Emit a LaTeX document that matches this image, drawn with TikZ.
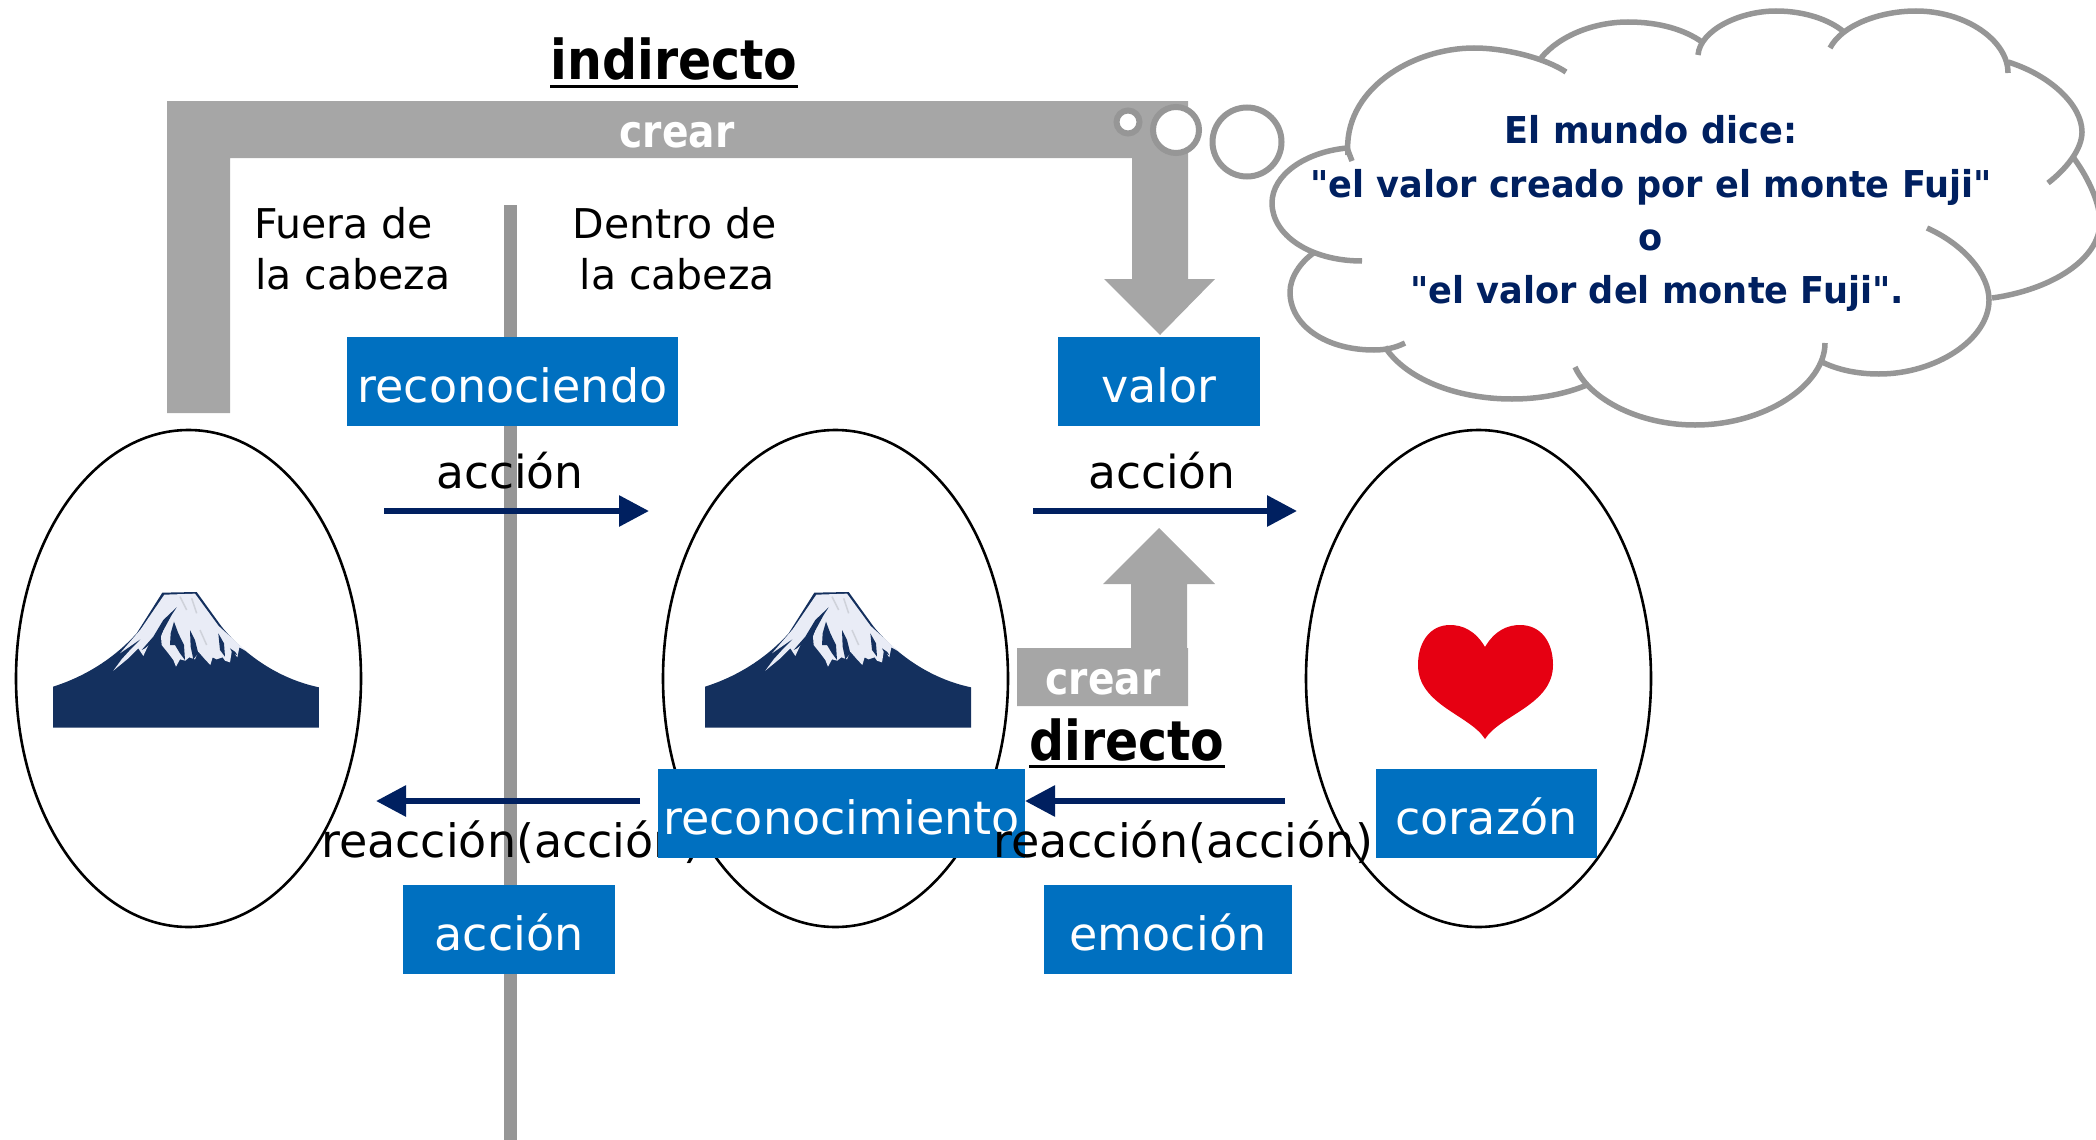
\documentclass[tikz,border=0pt]{standalone}
\usepackage{fontspec}
\setmainfont{DejaVu Sans}
\newfontfamily\titlefont[FakeStretch=0.89]{DejaVu Sans Bold}
\newfontfamily\blockfont[FakeStretch=0.87]{DejaVu Sans Bold}
\newfontfamily\cloudfont[FakeStretch=0.95]{DejaVu Sans Bold}
\usetikzlibrary{arrows.meta,calc,shapes.geometric}
\definecolor{boxblue}{HTML}{0070C0}
\definecolor{navy}{HTML}{002060}
\definecolor{blockgray}{HTML}{A6A6A6}
\definecolor{linegray}{HTML}{969696}
\definecolor{fujidark}{HTML}{14305E}
\definecolor{fujisnow}{HTML}{E9ECF6}
\definecolor{fujistreak}{HTML}{CFD2DA}
\definecolor{heartred}{HTML}{E60012}
\newcommand{\fsz}[1]{\fontsize{#1}{#1}\selectfont}
\tikzset{
  x=1pt,y=-1pt,
  oval/.style={draw=black,line width=2.6pt,ellipse,minimum width=345pt,minimum height=497pt,inner sep=0pt},
  bluebox/.style={fill=boxblue,text=white,inner sep=0pt,font=\fsz{46},text height=42pt,text depth=0pt,align=center},
  lbl/.style={anchor=base,inner sep=0pt,font=\fsz{46},text=black},
  sidelbl/.style={inner sep=0pt,font=\fsz{41},text=black},
  blocklbl/.style={anchor=base,inner sep=0pt,font=\blockfont\fsz{45},text=white},
  titlelbl/.style={anchor=base,inner sep=0pt,font=\titlefont\fsz{55},text=black},
  titlerule/.style={draw=black,line width=3pt},
  cloudlbl/.style={anchor=base,inner sep=0pt,font=\cloudfont\fsz{37},text=navy},
  flow/.style={draw=navy,line width=6pt,-{Triangle[length=30pt,width=30pt]}},
  divider/.style={draw=linegray,line width=13pt},
  block/.style={fill=blockgray},
  puff/.style={draw=linegray,line width=6pt,fill=white,circle,inner sep=0pt},
  cloudarc/.style={draw=linegray,line width=5.5pt,line cap=butt},
  fuji/.pic={
    \begin{scope}[x=0.33333pt,y=-0.33333pt]
    \fill[fujidark] (69,350) .. controls (170,318) and (255,262) .. (320,190) -- (397,68) -- (500,66) -- (575,170) .. controls (640,250) and (740,325) .. (867,352) -- (867,473) -- (69,473) -- cycle;
    \fill[fujisnow] (403,74) -- (495,71) -- (566,168) -- (648,243) -- (628,232) -- (622,262) -- (606,240) -- (600,277) -- (585,272) -- (578,262) -- (560,268) -- (548,262) -- (541,285) -- (525,268) -- (505,245) -- (495,268) -- (478,262) -- (466,272) -- (450,268) -- (438,290) -- (430,270) -- (415,250) -- (395,225) -- (393,200) -- (405,165) -- (360,215) -- (340,258) -- (325,235) -- (295,265) -- (250,302) -- (275,268) -- (305,235) -- (335,205) -- (270,250) -- (332,178) -- cycle;
    \fill[fujidark] (440,112) -- (400,150) -- (370,200) -- (335,240) -- (345,235) -- (395,190) -- (425,135) -- cycle;
    \fill[fujidark] (432,155) -- (445,190) -- (462,225) -- (465,270) -- (450,250) -- (435,225) -- (420,225) -- (422,190) -- cycle;
    \fill[fujidark] (480,180) -- (495,210) -- (505,250) -- (490,268) -- (482,230) -- cycle;
    \fill[fujidark] (565,190) -- (582,220) -- (585,260) -- (570,240) -- cycle;
    \fill[fujidark] (600,235) -- (615,245) -- (622,255) -- (608,250) -- cycle;
    \draw[fujistreak,line width=1.5pt] (450,80) -- (470,120);
    \draw[fujistreak,line width=1.5pt] (485,85) -- (500,130);
    \draw[fujistreak,line width=1.5pt] (510,180) -- (530,225);
    \end{scope}
  }
}
\begin{document}
\begin{tikzpicture}
\useasboundingbox (0,0) rectangle (2096,1140);
% divider
\coordinate (divtop) at (510.5,205);
\coordinate (divbot) at (510.5,1140);
\draw[divider] (divtop) -- (divbot);
% ovals
\node[oval] (ovalA) at (188.5,678.5) {};
\node[oval] (ovalB) at (835.5,678.5) {};
\node[oval] (ovalC) at (1478.5,678.5) {};
% fuji
\pic at (30,570) {fuji};
\pic at (682,570) {fuji};
% heart
\fill[heartred] (1485,647) .. controls (1475,630) and (1462,625) .. (1450,625) .. controls (1430,625) and (1418,642) .. (1418,665) .. controls (1418,705) and (1470,715) .. (1485,739) .. controls (1500,715) and (1553,705) .. (1553,665) .. controls (1553,642) and (1541,625) .. (1520,625) .. controls (1508,625) and (1495,630) .. (1485,647) -- cycle;
% grey block shapes
\fill[block] (167,413) -- (167,101) -- (1188,101) -- (1188,279) -- (1215,279) -- (1160,335) -- (1104,279) -- (1132,279) -- (1132,158) -- (230,158) -- (230,413) -- cycle;
\fill[block] (1017,706) -- (1017,648) -- (1131,648) -- (1131,584) -- (1103,584) -- (1159,528) -- (1215,584) -- (1187,584) -- (1187,648) -- (1188,648) -- (1188,706) -- cycle;
\node[blocklbl] (crearA) at (677,147) {crear};
\node[blocklbl] (crearB) at (1103,694) {crear};
% titles
\node[titlelbl] (indirecto) at (674,79) {indirecto};
\draw[titlerule] ([yshift=-7pt]indirecto.base west) -- ([yshift=-7pt]indirecto.base east);
\node[titlelbl] (directo) at (1127,760) {directo};
\draw[titlerule] ([yshift=-6pt]directo.base west) -- ([yshift=-6pt]directo.base east);
% side labels
\node[sidelbl,anchor=base west] (fuera) at (254,238) {Fuera de};
\node[sidelbl,anchor=base west] (fuerab) at (255,289) {la cabeza};
\node[sidelbl,anchor=base east] (dentro) at (777,238) {Dentro de};
\node[sidelbl,anchor=base east] (dentrob) at (775,289) {la cabeza};
% labels
\node[lbl,font=\fsz{45.5}] (accionA) at (510,488) {acción};
\node[lbl,font=\fsz{45.5}] (accionB) at (1162,488) {acción};
\node[lbl] (reaccionA) at (511,857) {reacción(acción)};
% blue boxes
\node[bluebox,minimum width=331pt,minimum height=89pt] (reconociendo) at (512.5,381.5) {reconociendo};
\node[bluebox,minimum width=202pt,minimum height=89pt] (valor) at (1159,381.5) {valor};
\node[bluebox,minimum width=367pt,minimum height=89pt] (reconocimiento) at (841.5,813.5) {reconocimiento};
\node[bluebox,minimum width=221pt,minimum height=89pt] (corazon) at (1486.5,813.5) {corazón};
\node[bluebox,minimum width=212pt,minimum height=89pt] (accionbox) at (509,929.5) {acción};
\node[bluebox,minimum width=248pt,minimum height=89pt] (emocion) at (1168,929.5) {emoción};
\node[lbl] (reaccionB) at (1183,857) {reacción(acción)};
% flows
\coordinate (f1a) at (384,511); \coordinate (f1b) at (649,511);
\coordinate (f2a) at (1033,511); \coordinate (f2b) at (1297,511);
\coordinate (f3a) at (640,801); \coordinate (f3b) at (376,801);
\coordinate (f4a) at (1285,801); \coordinate (f4b) at (1025,801);
\draw[flow] (f1a) -- (f1b);
\draw[flow] (f2a) -- (f2b);
\draw[flow] (f3a) -- (f3b);
\draw[flow] (f4a) -- (f4b);
% cloud
\draw[cloudarc] (1348,155) .. controls (1342,90) and (1412,48) .. (1474,48) .. controls (1505,48) and (1545,58) .. (1566,72);
\draw[cloudarc] (1541,58) .. controls (1560,35) and (1595,22) .. (1628,22) .. controls (1660,22) and (1685,30) .. (1702,42);
\draw[cloudarc] (1698,55) .. controls (1700,30) and (1740,11) .. (1776,11) .. controls (1805,11) and (1830,20) .. (1844,32);
\draw[cloudarc] (1830,48) .. controls (1842,25) and (1880,11) .. (1916,11) .. controls (1965,11) and (2008,40) .. (2008,73);
\draw[cloudarc] (2008,62) .. controls (2050,75) and (2082,105) .. (2082,132) .. controls (2082,150) and (2065,170) .. (2048,183);
\draw[cloudarc] (2073,157) .. controls (2090,180) and (2100,205) .. (2100,222) .. controls (2100,260) and (2050,290) .. (1992,298);
\draw[cloudarc] (1927,228) .. controls (1965,245) and (1989,275) .. (1989,300) .. controls (1989,340) and (1935,374) .. (1879,374) .. controls (1858,374) and (1838,370) .. (1822,362);
\draw[cloudarc] (1825,343) .. controls (1825,385) and (1765,425) .. (1695,425) .. controls (1640,425) and (1590,400) .. (1575,367);
\draw[cloudarc] (1587,385) .. controls (1565,394) and (1540,399) .. (1512,399) .. controls (1455,399) and (1405,378) .. (1385,347);
\draw[cloudarc] (1405,343) .. controls (1395,348) and (1385,350) .. (1374,350) .. controls (1325,350) and (1290,325) .. (1290,292) .. controls (1290,278) and (1300,262) .. (1315,252);
\draw[cloudarc] (1362,261) .. controls (1310,261) and (1272,235) .. (1272,203) .. controls (1272,175) and (1305,152) .. (1347,148) -- (1352,161);
\node[cloudlbl] (cl1) at (1651,143) {El mundo dice:};
\node[cloudlbl] (cl2) at (1651,197) {"el valor creado por el monte Fuji"};
\node[cloudlbl] (cl3) at (1651,250) {o};
\node[cloudlbl] (cl4) at (1657,303) {"el valor del monte Fuji".};
% thought puffs
\node[puff,minimum size=23pt] (puffA) at (1128,122) {};
\node[puff,minimum size=46pt] (puffB) at (1176,130) {};
\node[puff,minimum size=69pt] (puffC) at (1247,142) {};
\end{tikzpicture}
\end{document}
